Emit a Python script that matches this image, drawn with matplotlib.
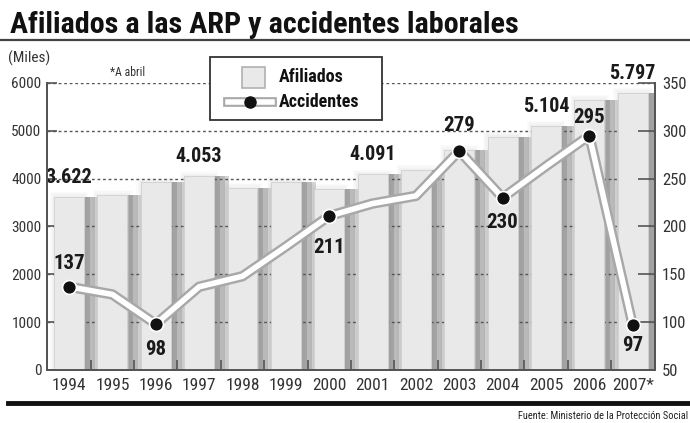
import numpy as np
import matplotlib
matplotlib.use('Agg')
import matplotlib.pyplot as plt
import matplotlib.patheffects as pe
from matplotlib.patches import Rectangle
from matplotlib.lines import Line2D

# data
years = ['1994', '1995', '1996', '1997', '1998', '1999', '2000',
         '2001', '2002', '2003', '2004', '2005', '2006', '2007*']
afiliados = [3622, 3660, 3920, 4053, 3810, 3940, 3790,
             4091, 4180, 4600, 4880, 5104, 5650, 5797]
afiliados_labels = ['3.622', '', '', '4.053', '', '', '',
                    '4.091', '', '', '', '5.104', '', '5.797']
accidentes = [137, 129, 98, 137, 148, 179, 211,
              224, 232, 279, 230, 263, 295, 97]
accidentes_labels = ['137', '', '98', '', '', '', '211',
                     '', '', '279', '230', '', '295', '97']
left_ticks = [0, 1000, 2000, 3000, 4000, 5000, 6000]
right_ticks = [50, 100, 150, 200, 250, 300, 350]

# label offsets (points), + above / - below the dot
acc_offsets = [17, 0, -18, 0, 0, 0, -23, 0, 0, 18, -18, 0, 13, -15]

plt.rcParams['font.family'] = ['Roboto Condensed', 'DejaVu Sans']

fig = plt.figure(figsize=(6.9, 4.23), dpi=100)
ax = fig.add_axes([0.068, 0.1253, 0.881, 0.6785])

x = np.arange(len(years))
w = 0.69

# soft shadow to the right of each bar
for k, (a, c) in enumerate([(0.34, '#d4d4d4'), (0.29, '#bababa'), (0.21, '#a3a3a3')]):
    ax.bar(x + w / 2 + 0.015 * k, afiliados, width=a - 0.05 * k, align='edge',
           color=c, zorder=1, linewidth=0)
# faint haze round the bar tops
for k in range(4):
    ax.bar(x, np.array(afiliados) + 25 * (4 - k), width=w + 0.05 * (4 - k),
           color='#999999', alpha=0.035, zorder=1, linewidth=0)

ax.set_ylim(0, 6000)
ax.set_xlim(-0.51, 13.51)
for v in left_ticks[1:]:
    ax.axhline(v, color='#555555', lw=1, ls=(0, (2, 2)), zorder=2)

ax.bar(x, afiliados, width=w, color='#e9e9e9', edgecolor='#d0d0d0',
       linewidth=0.6, zorder=3)

for i, lab in enumerate(afiliados_labels):
    if lab:
        ax.annotate(lab, (x[i], afiliados[i]), xytext=(0, 14),
                    textcoords='offset points', ha='center', va='center',
                    fontsize=14.5, fontweight='bold', color='#1a1a1a', zorder=6)

# accidents on the right scale
ax2 = ax.twinx()
ax2.set_ylim(50, 350)
ax2.set_xlim(ax.get_xlim())
mark_idx = [i for i, lab in enumerate(accidentes_labels) if lab]
ax2.plot(x, accidentes, color='white', lw=4, zorder=4, solid_capstyle='round',
         path_effects=[pe.Stroke(linewidth=7.5, foreground='#a8a8a8'), pe.Normal()])
ax2.plot(x[mark_idx], np.array(accidentes)[mark_idx], 'o', color='#111111',
         markersize=10, markeredgecolor='white', markeredgewidth=1.2, zorder=5)
for i in mark_idx:
    ax2.annotate(accidentes_labels[i], (x[i], accidentes[i]),
                 xytext=(0, acc_offsets[i]), textcoords='offset points',
                 ha='center', va='center', fontsize=15, fontweight='bold',
                 color='#1a1a1a', zorder=6)

# axes styling
for a in (ax, ax2):
    a.spines['top'].set_visible(False)
    for s in ('left', 'right', 'bottom'):
        a.spines[s].set_color('#555555')
        a.spines[s].set_linewidth(1.4)
ax.set_yticks(left_ticks)
ax.set_yticklabels([str(v) for v in left_ticks])
ax.tick_params(axis='y', direction='in', length=7, width=1.2, color='#555555',
               labelsize=11, labelcolor='#333333', pad=4)
ax.set_xticks(x)
ax.set_xticklabels(years)
ax.tick_params(axis='x', length=0, labelsize=12.5, labelcolor='#333333', pad=6)
ax.set_xticks(x[:-1] + 0.5, minor=True)
ax.tick_params(axis='x', which='minor', direction='in', length=7, width=1.2,
               color='#555555')
ax2.set_yticks(right_ticks)
ax2.set_yticklabels([str(v) for v in right_ticks])
ax2.tick_params(axis='y', direction='in', length=12, width=1.2, color='#555555',
                labelsize=12, labelcolor='#333333', pad=5)

# legend drawn by hand
fig.patches.append(Rectangle((210 / 690, 1 - 120 / 423), 172 / 690, 63 / 423,
                             transform=fig.transFigure, facecolor='white',
                             edgecolor='#333333', lw=1.3, zorder=7))
fig.patches.append(Rectangle((242 / 690, 1 - 88 / 423), 23 / 690, 21 / 423,
                             transform=fig.transFigure, facecolor='#e9e9e9',
                             edgecolor='#b0b0b0', lw=1.2, zorder=8))
fig.lines.append(Line2D([228 / 690, 272 / 690], [1 - 102 / 423] * 2,
                        transform=fig.transFigure, color='white', lw=4, zorder=8,
                        path_effects=[pe.Stroke(linewidth=7, foreground='#a8a8a8'),
                                      pe.Normal()]))
fig.lines.append(Line2D([250 / 690], [1 - 102 / 423], transform=fig.transFigure,
                        marker='o', color='#111111', markersize=8, zorder=9))
fig.text(279 / 690, 1 - 77 / 423, 'Afiliados', fontsize=13, fontweight='bold',
         va='center', color='#111111', zorder=9)
fig.text(279 / 690, 1 - 102 / 423, 'Accidentes', fontsize=13, fontweight='bold',
         va='center', color='#111111', zorder=9)

# titles and notes
fig.text(10 / 690, 1 - 33 / 423, 'Afiliados a las ARP y accidentes laborales',
         fontsize=21.7, fontweight='bold', va='baseline', color='#111111')
fig.lines.append(Line2D([0, 1], [1 - 40 / 423] * 2, transform=fig.transFigure,
                        color='#444444', lw=1.6))
fig.text(8 / 690, 1 - 58 / 423, '(Miles)', fontsize=11, va='center',
         color='#333333')
fig.text(110 / 690, 1 - 72 / 423, '*A abril', fontsize=8.5, va='center',
         color='#333333')
fig.lines.append(Line2D([8 / 690, 1], [1 - 403 / 423] * 2,
                        transform=fig.transFigure, color='#111111', lw=3.5))
fig.text(688 / 690, 1 - 416 / 423, 'Fuente: Ministerio de la Protección Social',
         fontsize=7.5, ha='right', va='center', color='#222222')

fig.savefig('out.png', dpi=100)
